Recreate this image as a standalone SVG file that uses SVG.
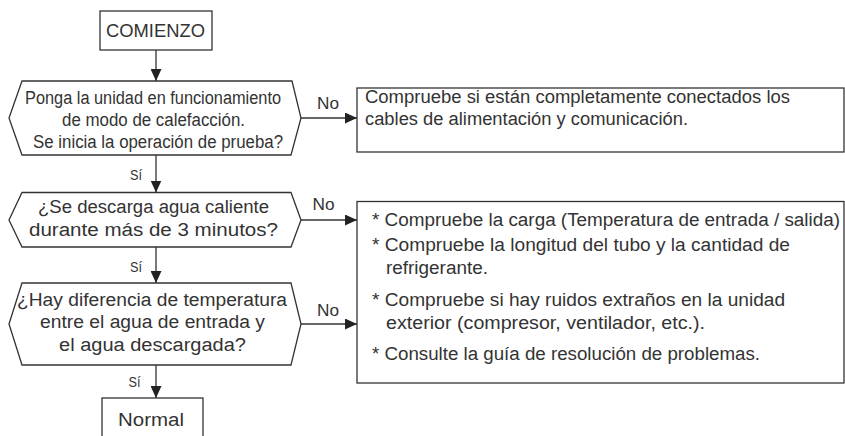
<svg xmlns="http://www.w3.org/2000/svg" width="845" height="436" viewBox="0 0 845 436">
<style>
.shape{fill:#fff;stroke:#333;stroke-width:1.3}
.t{font-family:"Liberation Sans",Arial,sans-serif;font-size:18px;fill:#333}
.lbl{font-family:"Liberation Sans",Arial,sans-serif;font-size:17px;fill:#333}
.si{font-family:"Liberation Sans",Arial,sans-serif;font-size:15px;fill:#333}
.conn{fill:none;stroke:#333;stroke-width:1.3}
</style>
<defs>
<marker id="ah" markerUnits="userSpaceOnUse" markerWidth="12" markerHeight="11" refX="12" refY="5.5" orient="auto">
<path d="M0,0 L12,5.5 L0,11 Z" fill="#222"/>
</marker>
</defs>
<rect width="845" height="436" fill="#fff"/>
<g id="connectors">
<line class="conn" x1="156" y1="50" x2="156" y2="81" marker-end="url(#ah)"/>
<line class="conn" x1="156" y1="155" x2="156" y2="192.5" marker-end="url(#ah)"/>
<line class="conn" x1="156" y1="247" x2="156" y2="283" marker-end="url(#ah)"/>
<line class="conn" x1="156" y1="365" x2="156" y2="398" marker-end="url(#ah)"/>
<line class="conn" x1="301" y1="118" x2="357" y2="118" marker-end="url(#ah)"/>
<line class="conn" x1="301" y1="220" x2="357" y2="220" marker-end="url(#ah)"/>
<line class="conn" x1="301" y1="324" x2="357" y2="324" marker-end="url(#ah)"/>
<text class="lbl" x="317" y="108.5" textLength="22" lengthAdjust="spacingAndGlyphs">No</text>
<text class="lbl" x="312.5" y="209.5" textLength="22" lengthAdjust="spacingAndGlyphs">No</text>
<text class="lbl" x="317" y="315.5" textLength="22" lengthAdjust="spacingAndGlyphs">No</text>
<text class="si" x="130" y="180" textLength="12" lengthAdjust="spacingAndGlyphs">Sí</text>
<text class="si" x="130" y="272" textLength="12" lengthAdjust="spacingAndGlyphs">Sí</text>
<text class="si" x="128.5" y="387" textLength="12" lengthAdjust="spacingAndGlyphs">Sí</text>
</g>
<g id="start">
<rect class="shape" x="100" y="11" width="112" height="39"/>
<text class="t" x="106" y="37" textLength="99" lengthAdjust="spacingAndGlyphs">COMIENZO</text>
</g>
<g id="decision1">
<polygon class="shape" points="22,81 292,81 301,118 291,155 22,155 9,118"/>
<text class="t" x="25" y="103.5" textLength="256" lengthAdjust="spacingAndGlyphs">Ponga la unidad en funcionamiento</text>
<text class="t" x="62" y="125.5" textLength="183" lengthAdjust="spacingAndGlyphs">de modo de calefacción.</text>
<text class="t" x="33" y="147.5" textLength="250" lengthAdjust="spacingAndGlyphs">Se inicia la operación de prueba?</text>
</g>
<g id="check-cables">
<rect class="shape" x="357" y="88" width="487" height="64"/>
<text class="t" x="365" y="103" textLength="425" lengthAdjust="spacingAndGlyphs">Compruebe si están completamente conectados los</text>
<text class="t" x="365" y="125" textLength="323" lengthAdjust="spacingAndGlyphs">cables de alimentación y comunicación.</text>
</g>
<g id="decision2">
<polygon class="shape" points="22,192.5 291,192.5 301,220 291,247 22,247 9,220"/>
<text class="t" x="38" y="212.5" textLength="231" lengthAdjust="spacingAndGlyphs">¿Se descarga agua caliente</text>
<text class="t" x="29" y="235.5" textLength="249" lengthAdjust="spacingAndGlyphs">durante más de 3 minutos?</text>
</g>
<g id="decision3">
<polygon class="shape" points="22,283 291,283 301,324 291,365 22,365 9,324"/>
<text class="t" x="17" y="305.5" textLength="270" lengthAdjust="spacingAndGlyphs">¿Hay diferencia de temperatura</text>
<text class="t" x="40" y="328" textLength="225" lengthAdjust="spacingAndGlyphs">entre el agua de entrada y</text>
<text class="t" x="59" y="350.5" textLength="187" lengthAdjust="spacingAndGlyphs">el agua descargada?</text>
</g>
<g id="check-list">
<rect class="shape" x="357" y="201.5" width="487" height="181.5"/>
<text class="t" x="372" y="226" textLength="468" lengthAdjust="spacingAndGlyphs">* Compruebe la carga (Temperatura de entrada / salida)</text>
<text class="t" x="372" y="251" textLength="418" lengthAdjust="spacingAndGlyphs">* Compruebe la longitud del tubo y la cantidad de</text>
<text class="t" x="386" y="274" textLength="102" lengthAdjust="spacingAndGlyphs">refrigerante.</text>
<text class="t" x="372" y="306" textLength="413" lengthAdjust="spacingAndGlyphs">* Compruebe si hay ruidos extraños en la unidad</text>
<text class="t" x="386" y="329" textLength="319" lengthAdjust="spacingAndGlyphs">exterior (compresor, ventilador, etc.).</text>
<text class="t" x="372" y="360" textLength="388" lengthAdjust="spacingAndGlyphs">* Consulte la guía de resolución de problemas.</text>
</g>
<g id="normal">
<rect class="shape" x="102" y="398" width="101" height="60"/>
<text class="t" x="118" y="426" textLength="66" lengthAdjust="spacingAndGlyphs">Normal</text>
</g>
</svg>
